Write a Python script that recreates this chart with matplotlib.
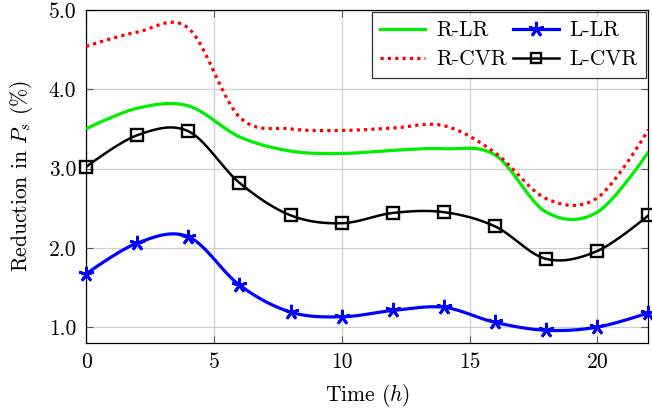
import numpy as np
import matplotlib
matplotlib.use("Agg")
import matplotlib.pyplot as plt
from matplotlib.lines import Line2D

hours = [0, 2, 4, 6, 8, 10, 12, 14, 16, 18, 20, 22]
r_lr = [3.50, 3.76, 3.79, 3.40, 3.22, 3.19, 3.23, 3.25, 3.17, 2.45, 2.45, 3.21]
l_lr = [1.67, 2.06, 2.14, 1.53, 1.19, 1.13, 1.21, 1.25, 1.06, 0.96, 1.00, 1.18]
r_cvr = [4.54, 4.72, 4.77, 3.65, 3.50, 3.48, 3.51, 3.54, 3.20, 2.62, 2.63, 3.49]
l_cvr = [3.02, 3.42, 3.47, 2.82, 2.41, 2.31, 2.44, 2.45, 2.27, 1.86, 1.96, 2.41]

xticks = [0, 5, 10, 15, 20]
yticks = [1.0, 2.0, 3.0, 4.0, 5.0]
ytick_labels = ["1.0", "2.0", "3.0", "4.0", "5.0"]

plt.rcParams["font.family"] = ["cmr10", "DejaVu Serif"]
plt.rcParams["mathtext.fontset"] = "cm"
plt.rcParams["axes.formatter.use_mathtext"] = True
FS = 15.5


def smooth(xs, ys, k=1.0 / 6.0, n=30):
    """Bezier curve through points like TikZ 'smooth'."""
    p = np.column_stack([xs, ys]).astype(float)
    m = len(p)
    out = [p[0:1]]
    for i in range(m - 1):
        p0, p3 = p[i], p[i + 1]
        d0 = (p[i + 1] - p[i - 1]) if i > 0 else np.zeros(2)
        d1 = (p[i + 2] - p[i]) if i + 2 < m else np.zeros(2)
        c1 = p0 + k * d0
        c2 = p3 - k * d1
        t = np.linspace(0, 1, n)[1:, None]
        seg = ((1 - t) ** 3) * p0 + 3 * ((1 - t) ** 2) * t * c1 + 3 * (1 - t) * t ** 2 * c2 + t ** 3 * p3
        out.append(seg)
    a = np.vstack(out)
    return a[:, 0], a[:, 1]


fig = plt.figure(figsize=(6.52, 4.13), dpi=100)
ax = fig.add_axes([0.132, 0.1695, 0.8626, 0.8065])

green = "#00ee00"
red = "#ff0000"
blue = "#0000ff"

x, y = smooth(hours, r_lr)
ax.plot(x, y, color=green, lw=2.3, zorder=3, solid_capstyle="butt")
x, y = smooth(hours, r_cvr)
ax.plot(x, y, color=red, lw=2.3, ls=(0, (1, 1.3)), zorder=3)
x, y = smooth(hours, l_cvr)
ax.plot(x, y, color="black", lw=1.8, zorder=4)
ax.plot(hours, l_cvr, ls="none", marker="s", ms=8.5, mfc="none", mec="black", mew=1.7, zorder=5, clip_on=False)
x, y = smooth(hours, l_lr)
ax.plot(x, y, color=blue, lw=2.3, zorder=4)
ax.plot(hours, l_lr, ls="none", marker=(5, 2, 0), ms=11, mec=blue, mew=2.0, zorder=5, clip_on=False)

ax.set_xlim(0, 22)
ax.set_ylim(0.8, 5.0)
ax.set_xticks(xticks)
ax.set_xticklabels([str(v) for v in xticks], fontsize=FS)
ax.set_yticks(yticks)
ax.set_yticklabels(ytick_labels, fontsize=FS)
ax.grid(True, color="#cfcfcf", lw=0.9, zorder=0)
ax.set_axisbelow(True)
ax.tick_params(direction="in", length=5, width=0.8, color="0.35", top=True, right=True, pad=7)
for s in ax.spines.values():
    s.set_linewidth(0.9)
    s.set_color("black")

ax.set_xlabel("Time ($h$)", fontsize=FS, labelpad=7)
ax.set_ylabel("Reduction in $P_s$ (%)", fontsize=FS, labelpad=10)

handles = [
    Line2D([], [], color=green, lw=2.3),
    Line2D([], [], color=red, lw=2.3, ls=(0, (1, 1.3))),
    Line2D([], [], color=blue, lw=2.3, marker=(5, 2, 0), ms=11, mew=2.0),
    Line2D([], [], color="black", lw=1.8, marker="s", ms=7, mfc="none", mew=1.7),
]
labels = ["R-LR", "R-CVR", "L-LR", "L-CVR"]
leg = ax.legend(handles, labels, loc="upper right", ncol=2, fontsize=FS, frameon=True,
                fancybox=False, edgecolor="black", borderaxespad=0.1, handlelength=2.1,
                columnspacing=0.3, handletextpad=0.5, borderpad=0.4, labelspacing=0.45)
leg.get_frame().set_linewidth(0.9)
leg.set_zorder(10)

fig.savefig("out.png", dpi=100)
